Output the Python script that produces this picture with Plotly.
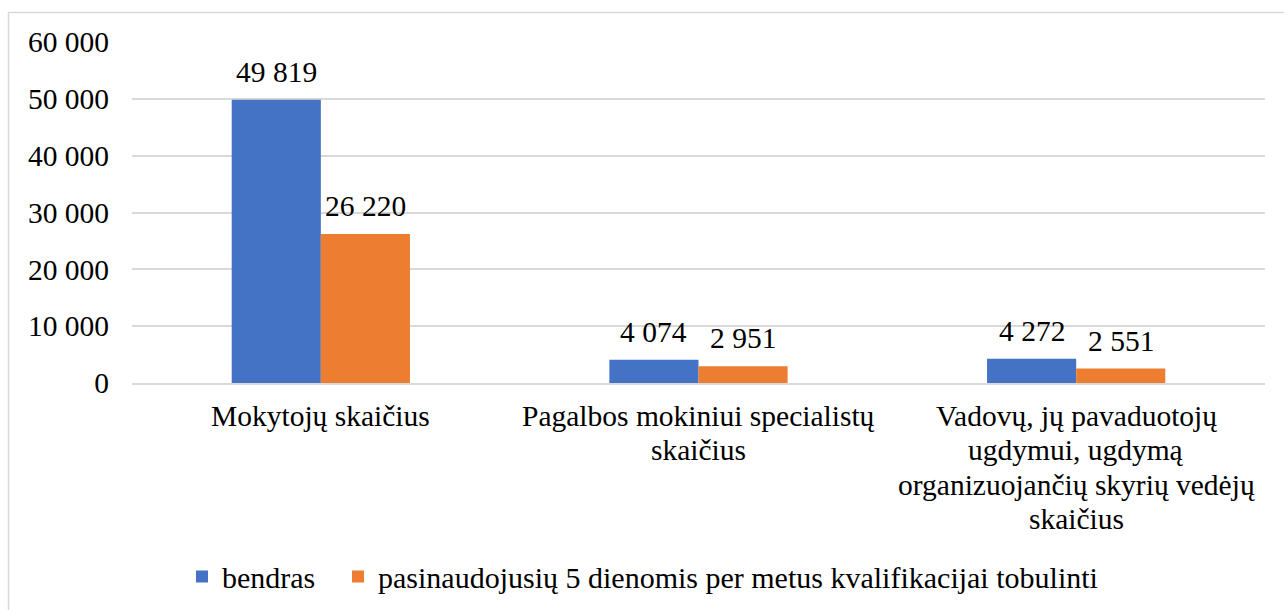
import plotly.graph_objects as go

categories = [
    "Mokytojų skaičius",
    "Pagalbos mokiniui specialistų skaičius",
    "Vadovų, jų pavaduotojų ugdymui, ugdymą organizuojančių skyrių vedėjų skaičius",
]
category_lines = [
    ["Mokytojų skaičius"],
    ["Pagalbos mokiniui specialistų", "skaičius"],
    ["Vadovų, jų pavaduotojų", "ugdymui, ugdymą", "organizuojančių skyrių vedėjų", "skaičius"],
]
series_names = ["bendras", "pasinaudojusių 5 dienomis per metus kvalifikacijai tobulinti"]
bendras = [49819, 4074, 4272]
pasinaudojusiu = [26220, 2951, 2551]
colors = ["#4472C4", "#ED7D31"]
y_ticks = [0, 10000, 20000, 30000, 40000, 50000, 60000]


def fmt(v):
    return f"{v:,}".replace(",", " ")


FONT = "Liberation Serif"
FS = 29.5
W, H = 1284, 610
ml, mr, mt, mb = 132, 19, 42, 227
BARGAP = 0.528
pw = W - ml - mr
ph = H - mt - mb
bar_px = pw / len(categories) * (1 - BARGAP) / 2
legend_ids = ["legend", "legend2"]
legend_x_px = [182, 338]

fig = go.Figure()
all_series = [bendras, pasinaudojusiu]
for si, (name, vals, col) in enumerate(zip(series_names, all_series, colors)):
    fig.add_trace(go.Bar(
        x=categories, y=vals, name=name, marker=dict(color=col, line=dict(width=0)),
        hoverinfo="x+y", legend=legend_ids[si],
    ))
    # value labels above bars
    for cat, v in zip(categories, vals):
        fig.add_annotation(x=cat, y=v, xref="x", yref="y", text=fmt(v), showarrow=False,
                           xanchor="center", yanchor="bottom", yshift=10,
                           xshift=(si - 0.5) * bar_px,
                           font=dict(family=FONT, size=FS, color="#000000"))

# category labels (tight line spacing like the original)
LINE = 34.3
for cat, lines in zip(categories, category_lines):
    for li, txt in enumerate(lines):
        fig.add_annotation(x=cat, y=0, xref="x", yref="y", text=txt, showarrow=False,
                           xanchor="center", yanchor="middle",
                           yshift=-(33 + li * LINE),
                           font=dict(family=FONT, size=FS, color="#000000"))

fig.add_shape(type="rect", xref="paper", yref="paper",
              x0=(8.5 - ml) / pw, x1=(W + 10 - ml) / pw,
              y0=-(H + 10 - (H - mb)) / ph, y1=1 + (mt - 12.5) / ph,
              line=dict(color="#D9D9D9", width=1.5), fillcolor="rgba(0,0,0,0)", layer="below")

legend_style = dict(orientation="h", xref="container", xanchor="left",
                    yref="container", y=0.055, yanchor="middle",
                    font=dict(family=FONT, size=30, color="#000000"),
                    itemwidth=30, bgcolor="rgba(0,0,0,0)")

fig.update_layout(
    width=W, height=H,
    margin=dict(l=ml, r=mr, t=mt, b=mb),
    paper_bgcolor="white", plot_bgcolor="white",
    barmode="group", bargap=BARGAP, bargroupgap=0,
    font=dict(family=FONT, size=FS, color="#000000"),
    showlegend=True,
    legend=dict(x=legend_x_px[0] / W, **legend_style),
    legend2=dict(x=legend_x_px[1] / W, **legend_style),
    xaxis=dict(showgrid=False, showline=True, linecolor="#D9D9D9", linewidth=1.5,
               ticks="", showticklabels=False),
    yaxis=dict(range=[0, 60000], tickvals=y_ticks, ticktext=[fmt(v) for v in y_ticks],
               showgrid=True, gridcolor="#D9D9D9", gridwidth=1.5, zeroline=False,
               showline=False, ticks="", ticklabelstandoff=22,
               tickfont=dict(family=FONT, size=FS, color="#000000")),
)

fig.write_html("out.html", post_script="document.body.style.margin='0';",
               config={"displayModeBar": False})
